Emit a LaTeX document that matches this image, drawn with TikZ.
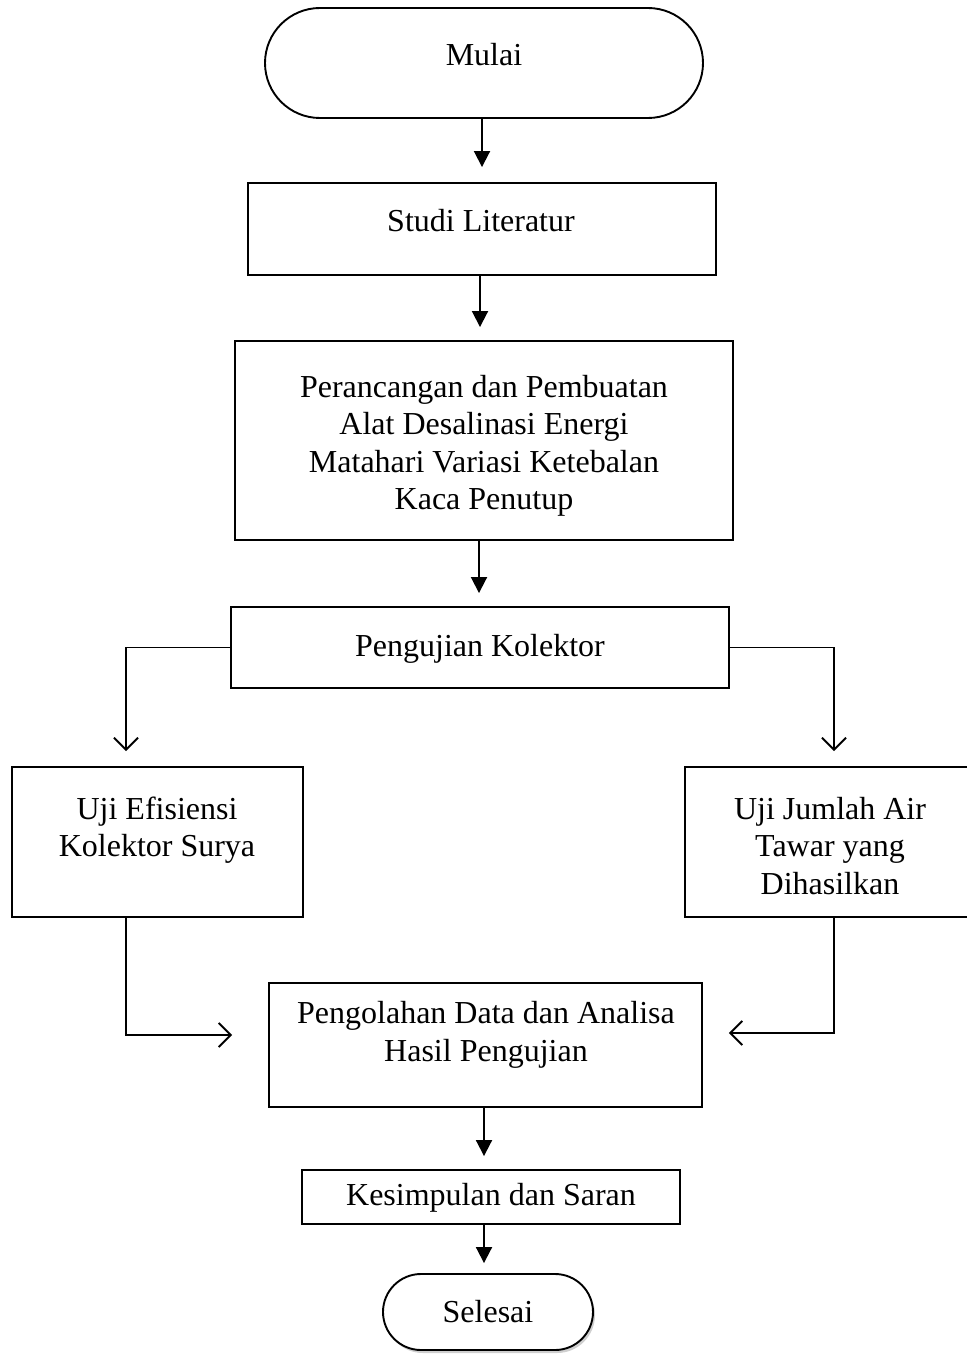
\documentclass[tikz,border=0pt]{standalone}
\usepackage{fontspec}
\setmainfont{Liberation Serif}
\usetikzlibrary{arrows.meta,shapes.misc,shadows}
\begin{document}
\begin{tikzpicture}[x=1pt,y=-1pt,
  box/.style={draw,line width=1.9pt,rectangle,inner sep=0pt},
  term/.style={draw,fill=white,line width=1.9pt,rounded rectangle,inner sep=0pt},
  txt/.style={font=\fontsize{32}{37.5}\selectfont,align=center,inner sep=0pt},
  fa/.style={line width=1.9pt,-{Triangle[length=16pt,width=16pt]}},
  oa/.style={line width=1.9pt,-{Straight Barb[length=12pt,width=24pt]}}]
\useasboundingbox (0,0) rectangle (966,1356);
% shapes
\node[term,minimum width=438pt,minimum height=110pt] (mulai) at (484,63) {};
\node[box,minimum width=468pt,minimum height=92pt] (studi) at (482,229) {};
\node[box,minimum width=498pt,minimum height=199pt] (rancang) at (484,440.5) {};
\node[box,minimum width=498pt,minimum height=81pt] (uji) at (480,647.5) {};
\node[box,minimum width=291pt,minimum height=150pt] (efis) at (157.5,842) {};
\node[box,minimum width=284pt,minimum height=150pt] (air) at (827,842) {};
\node[box,minimum width=433pt,minimum height=124pt] (olah) at (485.5,1045) {};
\node[box,minimum width=378pt,minimum height=54pt] (simpul) at (491,1197) {};
\node[term,minimum width=210pt,minimum height=76pt,drop shadow={shadow xshift=2pt,shadow yshift=-3pt,fill=gray!75}] (selesai) at (488,1312) {};
% texts
\node[txt] (mulait) at (484,55) {Mulai};
\node[txt] (studit) at (481,221) {Studi Literatur};
\node[txt] (rancangt) at (484,446) {Perancangan dan Pembuatan\\Alat Desalinasi Energi\\Matahari Variasi Ketebalan\\Kaca Penutup};
\node[txt] (ujit) at (480,649) {Pengujian Kolektor};
\node[txt] (efist) at (157,830) {Uji Efisiensi\\Kolektor Surya};
\node[txt] (airt) at (830,846) {Uji Jumlah Air\\Tawar yang\\Dihasilkan};
\node[txt] (olaht) at (486,1035) {Pengolahan Data dan Analisa\\Hasil Pengujian};
\node[txt] (simpult) at (491,1198) {Kesimpulan dan Saran};
\node[txt] (selesait) at (488,1312) {Selesai};
% connectors
\draw[fa,shorten >=15pt] (studi.north |- mulai.south) -- (studi.north);
\draw[fa,shorten >=13pt] ([xshift=-2pt]studi.south) -- ([xshift=-2pt]studi.south |- rancang.north);
\draw[fa,shorten >=13pt] ([xshift=-5pt]rancang.south) -- ([xshift=-5pt]rancang.south |- uji.north);
\draw[oa,shorten >=15pt] (uji.west) -| ([xshift=-31.5pt]efis.north);
\draw[oa,shorten >=15pt] (uji.east) -| ([xshift=7pt]air.north);
\draw[oa,shorten >=36pt] ([xshift=-31.5pt]efis.south) |- ([yshift=10pt]olah.west);
\draw[oa,shorten >=26pt] ([xshift=7pt]air.south) |- ([yshift=12pt]olah.east);
\draw[fa,shorten >=13pt] ([xshift=-1.5pt]olah.south) -- ([xshift=-1.5pt]olah.south |- simpul.north);
\draw[fa,shorten >=10pt] ([xshift=-7pt]simpul.south) -- ([xshift=-7pt]simpul.south |- selesai.north);
\end{tikzpicture}
\end{document}
